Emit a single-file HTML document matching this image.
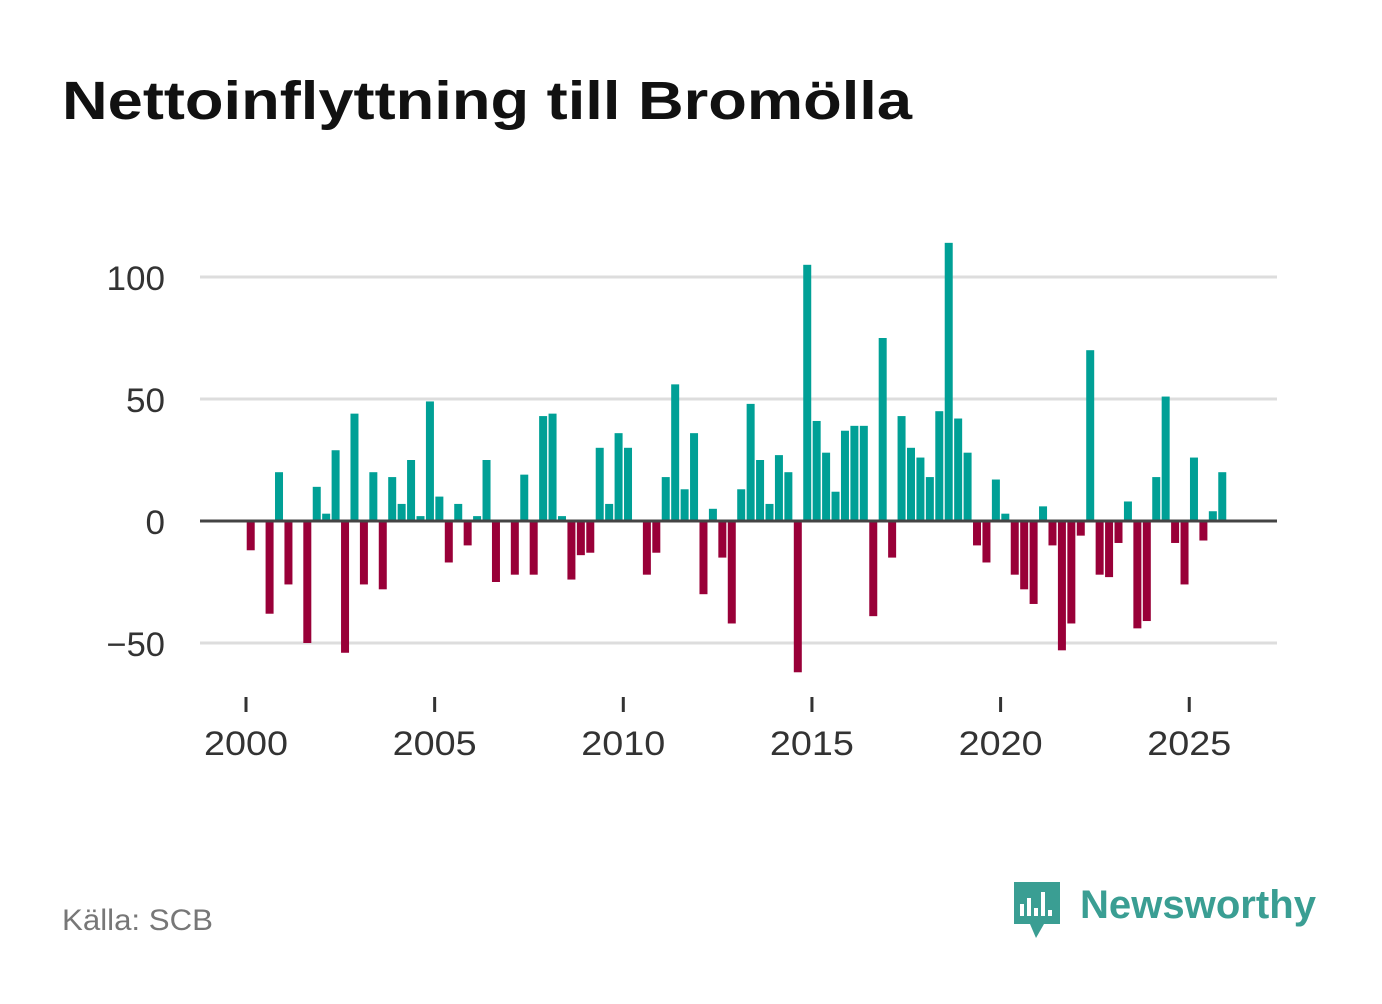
<!DOCTYPE html>
<html><head><meta charset="utf-8"><style>
body{margin:0;background:#fff;width:1382px;height:999px;overflow:hidden;font-family:"Liberation Sans",sans-serif}
</style></head><body>
<svg width="1382" height="999" xmlns="http://www.w3.org/2000/svg">
<text x="62" y="119" font-size="54" font-weight="bold" fill="#111" textLength="850" lengthAdjust="spacingAndGlyphs">Nettoinflyttning till Bromölla</text>
<g id="grid"></g><g id="bars"></g><g id="axes"></g>
<text x="62" y="930" font-size="30" fill="#777" textLength="151" lengthAdjust="spacingAndGlyphs">Källa: SCB</text>
<g>
<path d="M1014 882 h46 v42 h-16 l-8 14 l-6 -14 h-16 z" fill="#3a9e93"/>
<rect x="1020" y="904" width="4" height="12" fill="#fff"/><rect x="1027" y="898" width="4" height="18" fill="#fff"/><rect x="1034" y="908" width="4" height="8" fill="#fff"/><rect x="1041" y="892" width="4" height="24" fill="#fff"/><rect x="1048" y="910" width="4" height="6" fill="#fff"/>
<text x="1080" y="918" font-size="40" font-weight="bold" fill="#3a9e93" textLength="236" lengthAdjust="spacingAndGlyphs">Newsworthy</text>
</g>
</svg>
<script>
const startYear = [2000];
const values = [-12,0,-38,20,-26,0,-50,14,3,29,-54,44,-26,20,-28,18,7,25,2,49,10,-17,7,-10,2,25,-25,0,-22,19,-22,43,44,2,-24,-14,-13,30,7,36,30,0,-22,-13,18,56,13,36,-30,5,-15,-42,13,48,25,7,27,20,-62,105,41,28,12,37,39,39,-39,75,-15,43,30,26,18,45,114,42,28,-10,-17,17,3,-22,-28,-34,6,-10,-53,-42,-6,70,-22,-23,-9,8,-44,-41,18,51,-9,-26,26,-8,4,20];
const yTicks = [-50,0,50,100];
const yTickLabels = ["\u221250","0","50","100"];
const xTicks = [2000,2005,2010,2015,2020,2025];
const NS="http://www.w3.org/2000/svg";
const x = t => 246 + (t-2000)*37.73;
const y = v => 521 - v*2.44;
function mk(tag, attrs, parent){const e=document.createElementNS(NS,tag);for(const k in attrs)e.setAttribute(k,attrs[k]);parent.appendChild(e);return e;}
const grid=document.getElementById('grid'), bars=document.getElementById('bars'), axes=document.getElementById('axes');
yTicks.forEach((t,i)=>{
  if(t!==0){const l=mk('line',{x1:200,x2:1277,y1:y(t),y2:y(t),stroke:'#ddd','stroke-width':3},grid);
  
  }
  const lab=yTickLabels[i];
  const tx=mk('text',{x:165,y:y(t)+13,'font-size':34,'text-anchor':'end',fill:'#333',textLength:lab.length*19.5,lengthAdjust:'spacingAndGlyphs'},axes);
  tx.textContent=lab;
  
  
});
values.forEach((v,i)=>{
  if(v===0) return;
  const cx=x(startYear[0]+(i+0.5)/4);
  const r=mk('rect',{x:cx-4,width:8,y:Math.min(y(v),y(0)),height:Math.abs(y(v)-y(0)),fill:v>0?'#00a096':'#990038'},bars);
  
  
});
const zl=mk('line',{x1:200,x2:1277,y1:y(0),y2:y(0),stroke:'#444','stroke-width':3},axes);


xTicks.forEach(t=>{
  const tk=mk('line',{x1:x(t),x2:x(t),y1:697,y2:712,stroke:'#333','stroke-width':3},axes);
  
  
  const tx=mk('text',{x:x(t),y:755,'font-size':34,'text-anchor':'middle',fill:'#333',textLength:84,lengthAdjust:'spacingAndGlyphs'},axes);
  tx.textContent=t;
  
  
});
</script>
</body></html>
